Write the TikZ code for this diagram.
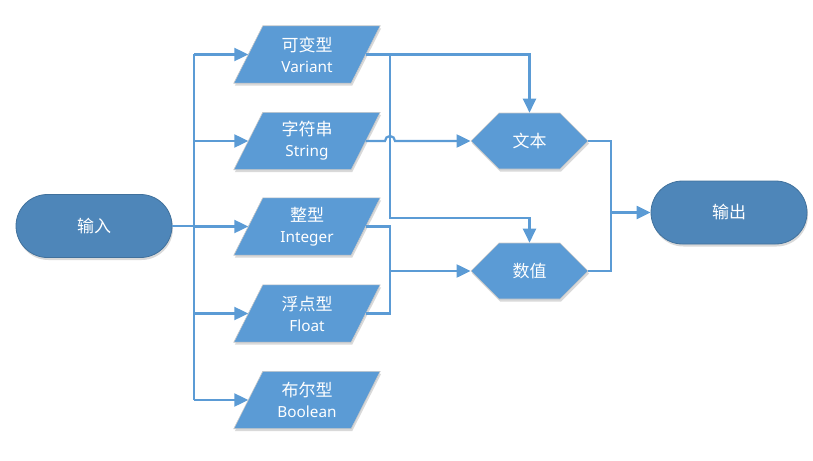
\documentclass[tikz,border=0pt]{standalone}
\usepackage{fontspec}
\newfontfamily\cjk{Noto Sans CJK SC}
\newfontfamily\lat{Noto Sans}
\usetikzlibrary{shapes.symbols,shapes.misc,arrows.meta,shadows,calc}
\definecolor{lineblue}{HTML}{5B9BD5}
\definecolor{shapeblue}{HTML}{5B9BD5}
\definecolor{termblue}{HTML}{4E86B9}
\definecolor{termborder}{HTML}{41719C}
\definecolor{edgegray}{HTML}{C8C8C8}
\newcommand{\zh}[1]{{\cjk\fontsize{17}{21}\selectfont #1}}
\newcommand{\en}[1]{{\lat\fontsize{15.3}{21}\selectfont #1}}
\pgfdeclarelayer{background}
\pgfsetlayers{background,main}
\begin{document}
\begin{tikzpicture}[x=1pt,y=-1pt,
  softshadow/.style={drop shadow={shadow xshift=1pt,shadow yshift=-2.5pt,opacity=0.15,fill=black}},
  para/.style={rectangle, minimum width=117pt, minimum height=57pt, inner sep=0pt,
    text=white, align=center, font=\fontsize{17}{21}\selectfont},
  parashape/.style={fill=shapeblue, draw=edgegray, line width=0.6pt, softshadow},
  hexa/.style={signal, signal to=east and west, minimum width=117pt, minimum height=56pt,
    inner sep=0pt, fill=shapeblue, draw=edgegray, line width=0.6pt, text=white, softshadow},
  term/.style={rounded rectangle, minimum width=156pt, minimum height=63pt, inner sep=0pt,
    fill=termblue, draw=termborder, line width=0.8pt, text=white, softshadow},
  conn/.style={draw=lineblue, line width=2.2pt},
  arr/.style={conn, -{Triangle[length=14pt,width=13pt]}},
]
\path[use as bounding box] (0,0) rectangle (813,460);

\node[term] (in)  at (94,226)   {\zh{输入}};
\node[term] (out) at (729,212.5) {\zh{输出}};

\node[para] (v) at (307,54.5) {\zh{可变型}\\\en{Variant}};
\node[para] (s) at (307,141)  {\zh{字符串}\\\en{String}};
\node[para] (i) at (307,226.5){\zh{整型}\\\en{Integer}};
\node[para] (f) at (307,313.5){\zh{浮点型}\\\en{Float}};
\node[para] (b) at (307,400)  {\zh{布尔型}\\\en{Boolean}};

\begin{pgfonlayer}{background}
\foreach \n in {v,s,i,f,b}
  \path[parashape] ([xshift=-14.5pt]\n.south west) -- ([xshift=-14.5pt]\n.south east)
    -- ([xshift=14.5pt]\n.north east) -- ([xshift=14.5pt]\n.north west) -- cycle;
\end{pgfonlayer}

\node[hexa] (wb) at (529.5,141) {\zh{文本}};
\node[hexa] (sz) at (529.5,271) {\zh{数值}};

\coordinate (tr) at (194,0);
\coordinate (k) at (390,218);
\coordinate (o) at (611,0);

\draw[conn] (in.east) -- (in.east -| tr);
\draw[conn] (v.west -| tr) -- (b.west -| tr);
\foreach \n in {v,s,i,f,b} \draw[arr] (\n.west -| tr) -- (\n.west);

\draw[arr] (v.east) -| (wb.north);
\draw[arr] (v.east -| k) -- (k) -| (sz.north);
\draw[arr] (s.east) -- ($(s.east -| k)+(-5,0)$) arc[start angle=180,end angle=0,radius=5pt] -- (wb.west);
\draw[conn] (i.east) -- (i.east -| k) -- (f.east -| k) -- (f.east);
\draw[arr] (sz.west -| k) -- (sz.west);
\draw[conn] (wb.east) -- (wb.east -| o) -- (sz.east -| o) -- (sz.east);
\draw[arr] (out.west -| o) -- (out.west);
\end{tikzpicture}
\end{document}
